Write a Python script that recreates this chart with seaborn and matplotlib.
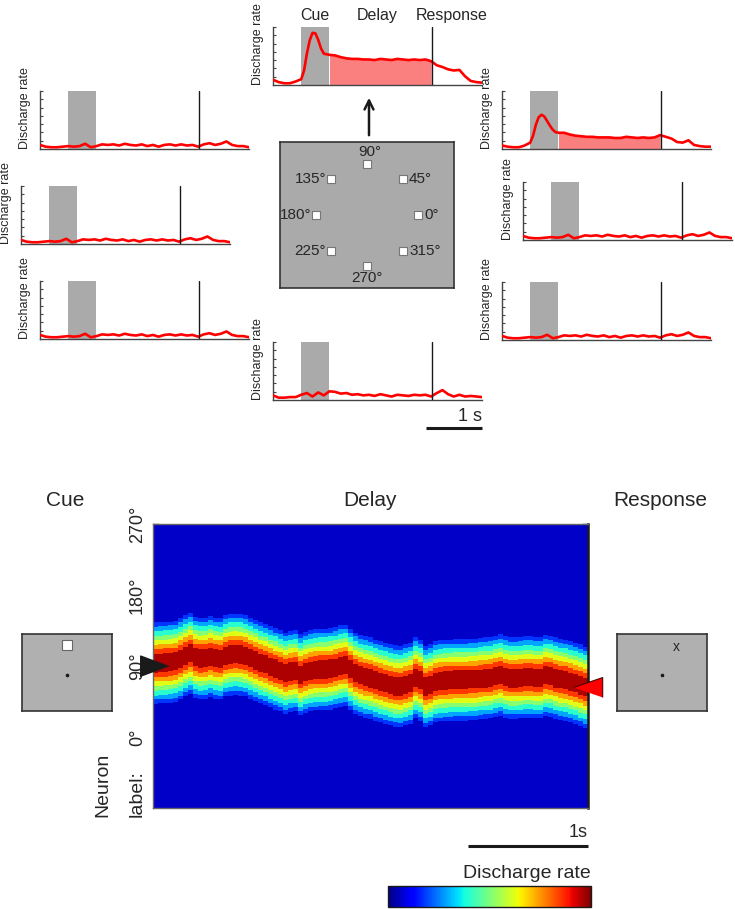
#Delay-period memory figure: tuning PSTHs + population bump heatmap
import numpy as np
import pandas as pd
import seaborn as sns
import matplotlib.pyplot as plt
from matplotlib import transforms

# ----- Figure geometry (pixels) -----
W, H = 735, 909

# ----- Task timing (s) -----
CUE_ON, CUE_OFF, RESP_T = 0.0, 0.5, 2.32
T_MIN, T_MAX = -0.5, 3.2

# ----- PSTH data (rate as fraction of axis height) -----
t_null = np.round(np.arange(-0.5, 3.21, 0.1), 2)
rate_null = [0.07, 0.04, 0.03, 0.03, 0.04, 0.05, 0.04, 0.05, 0.09, 0.03,
             0.05, 0.08, 0.07, 0.08, 0.06, 0.09, 0.07, 0.06, 0.08, 0.05,
             0.07, 0.04, 0.07, 0.08, 0.06, 0.08, 0.06, 0.07, 0.04, 0.08,
             0.10, 0.07, 0.09, 0.13, 0.07, 0.05, 0.05, 0.03]
rate_270 = [0.08, 0.04, 0.04, 0.05, 0.05, 0.09, 0.12, 0.06, 0.13, 0.08,
            0.15, 0.14, 0.11, 0.12, 0.09, 0.10, 0.08, 0.09, 0.07, 0.10,
            0.08, 0.06, 0.09, 0.08, 0.07, 0.09, 0.08, 0.09, 0.06, 0.12,
            0.17, 0.10, 0.06, 0.09, 0.06, 0.07, 0.06, 0.05]

t_tuned = [-0.5, -0.4, -0.3, -0.2, -0.1, 0.0, 0.05, 0.1, 0.15, 0.2, 0.25,
           0.3, 0.35, 0.4, 0.45, 0.5, 0.6, 0.7, 0.8, 0.9, 1.0, 1.1, 1.2,
           1.3, 1.4, 1.5, 1.6, 1.7, 1.8, 1.9, 2.0, 2.1, 2.2, 2.3, 2.4, 2.5,
           2.6, 2.7, 2.8, 2.9, 3.0, 3.1, 3.2]
rate_90 = [0.09, 0.05, 0.03, 0.03, 0.06, 0.10, 0.25, 0.54, 0.77, 0.90, 0.89,
           0.78, 0.63, 0.54, 0.53, 0.52, 0.51, 0.48, 0.46, 0.45, 0.45, 0.44,
           0.44, 0.43, 0.45, 0.44, 0.43, 0.45, 0.44, 0.43, 0.44, 0.43, 0.44,
           0.41, 0.34, 0.31, 0.27, 0.25, 0.26, 0.15, 0.07, 0.05, 0.04]
rate_45 = [0.06, 0.04, 0.03, 0.03, 0.06, 0.11, 0.23, 0.42, 0.55, 0.59, 0.56,
           0.48, 0.40, 0.33, 0.29, 0.28, 0.28, 0.25, 0.23, 0.22, 0.21, 0.21,
           0.20, 0.20, 0.20, 0.19, 0.19, 0.21, 0.20, 0.19, 0.20, 0.19, 0.20,
           0.24, 0.21, 0.18, 0.12, 0.11, 0.15, 0.07, 0.05, 0.04, 0.04]

target_dirs = [0, 45, 90, 135, 180, 225, 270, 315]

# ----- Population bump: centre of activity (deg) per time bin -----
band_deg = [93.5, 94, 94.5, 95, 96, 99, 103, 106, 101, 99.5,
            100, 102, 100, 99, 103, 104.5, 105, 104.5, 103, 100,
            97, 94, 92, 89, 86.5, 84, 81, 83, 84, 79,
            82, 84, 85, 85.5, 85.5, 86.5, 88, 90, 91, 86,
            81, 78, 76, 74.5, 72, 70, 68, 66, 64.5, 64,
            66, 68, 75, 72, 64, 66, 70, 71, 71.5, 72,
            72.5, 72.5, 72.5, 73, 73, 74, 74.5, 75, 77, 78.5,
            76, 74.5, 74.5, 75, 76, 76, 75, 75, 78, 77,
            74.5, 73, 72, 70, 68, 65.5, 63]
HEAT_DT = 1 / 24          # s per time bin
BAND_HALF = 52            # deg, where activity falls to background
N_LEVELS = 9              # contour levels incl. background
CORE_FRAC = 0.772         # activity above this is the top level
CUE_DEG = 90

# ----- Style -----
GRAY = "#aaaaaa"
FILL = "#fa8080"
EDGE = "#333333"

sns.set_theme(style="ticks")
plt.rcParams["font.family"] = ["Liberation Sans", "DejaVu Sans"]
plt.rcParams["axes.linewidth"] = 1.0

fig = plt.figure(figsize=(W / 100, H / 100), dpi=100)


def px_axes(x0, y0, x1, y1):
    return fig.add_axes([x0 / W, 1 - y1 / H, (x1 - x0) / W, (y1 - y0) / H])


def draw_psth(ax, t, rate, fill=False):
    t = np.asarray(t)
    rate = np.asarray(rate)
    ax.axvspan(CUE_ON, CUE_OFF, color=GRAY, lw=0, zorder=0)
    if fill:
        m = (t >= CUE_OFF) & (t <= RESP_T)
        ax.fill_between(t, 0, rate, where=m, color=FILL, lw=0, zorder=1)
    sns.lineplot(x=t, y=rate, ax=ax, color="red", lw=1.9, estimator=None,
                 zorder=3)
    ax.axvline(RESP_T, color="k", lw=1, zorder=4)
    ax.set_xlim(T_MIN, T_MAX)
    ax.set_ylim(0, 1)
    ax.set_yticks(np.linspace(0, 1, 8)[1:])
    ax.set_yticklabels([])
    ax.set_xticks([])
    ax.tick_params(axis="y", direction="in", length=2.5, width=0.8,
                   color="#444444")
    sns.despine(ax=ax)
    for s in ("left", "bottom"):
        ax.spines[s].set_color("#444444")
    ax.set_ylabel("Discharge rate", fontsize=9, loc="bottom", labelpad=3)


# ----- Top: PSTH for each target direction -----
PW, PH = 209, 58
panels = {90: (273, 27), 135: (40, 91), 45: (502, 91), 180: (21, 186),
          0: (523, 182), 225: (40, 281), 315: (502, 282), 270: (273, 342)}
psth_ax = {}
for d, (x0, y0) in panels.items():
    ax = px_axes(x0, y0, x0 + PW, y0 + PH)
    if d == 90:
        draw_psth(ax, t_tuned, rate_90, fill=True)
    elif d == 45:
        draw_psth(ax, t_tuned, rate_45, fill=True)
    elif d == 270:
        draw_psth(ax, t_null, rate_270)
    else:
        draw_psth(ax, t_null, rate_null)
    psth_ax[d] = ax

# epoch labels over the preferred-direction panel
top = psth_ax[90]
tr = transforms.blended_transform_factory(top.transData, top.transAxes)
for lab, tx in [("Cue", 0.25), ("Delay", 1.34), ("Response", 2.67)]:
    top.text(tx, 1.2, lab, transform=tr, ha="center", va="center",
             fontsize=11.5)

# 1 s scale bar under the 270 deg panel
bot = psth_ax[270]
tr = transforms.blended_transform_factory(bot.transData, bot.transAxes)
bot.plot([T_MAX - 1, T_MAX], [-0.48, -0.48], color="k", lw=2.2,
         transform=tr, clip_on=False, solid_capstyle="butt")
bot.text(T_MAX, -0.28, "1 s", transform=tr, ha="right", va="center",
         fontsize=13)

# ----- Centre: target layout -----
bx = px_axes(280, 142, 454, 288)
bx.set_facecolor(GRAY)
bx.set_xlim(-87, 87)
bx.set_ylim(-73, 73)
bx.set_xticks([])
bx.set_yticks([])
for s in bx.spines.values():
    s.set_color(EDGE)
    s.set_linewidth(1.2)
TARGET_R = 51
tx = TARGET_R * np.cos(np.deg2rad(target_dirs))
ty = TARGET_R * np.sin(np.deg2rad(target_dirs))
sns.scatterplot(x=tx, y=ty, ax=bx, marker="s", s=36, color="white",
                edgecolor="#777777", linewidth=0.8, legend=False)
for d, x, y in zip(target_dirs, tx, ty):
    lab = f"{d}°"
    if d == 90:
        bx.text(x + 3, y + 5, lab, ha="center", va="bottom", fontsize=11)
    elif d == 270:
        bx.text(x, y - 5, lab, ha="center", va="top", fontsize=11)
    elif d in (0, 45, 315):
        bx.text(x + 6, y, lab, ha="left", va="center", fontsize=11)
    else:
        bx.text(x - 5, y, lab, ha="right", va="center", fontsize=11)

# ----- Bottom: population activity heatmap -----
ang = np.arange(270, -91, -1)
heat_t = np.arange(len(band_deg)) * HEAT_DT
band = np.asarray(band_deg)
act = np.clip(1 - np.abs(ang[:, None] - band[None, :]) / BAND_HALF, 0, 1)
step = CORE_FRAC / (N_LEVELS - 2)
lvl = np.clip(np.ceil(act / step), 0, N_LEVELS - 1) / (N_LEVELS - 1)
heat = pd.DataFrame(lvl, index=ang, columns=np.round(heat_t, 3))

# level 0 -> jet(0.065), top level -> jet(0.96)
VMIN = -0.065 / 0.895
VMAX = VMIN + 1 / 0.895
hax = px_axes(153, 524, 588, 808)
cax = px_axes(388, 886, 591, 907)
sns.heatmap(heat, ax=hax, cmap="jet", vmin=VMIN, vmax=VMAX, cbar_ax=cax,
            cbar_kws={"orientation": "horizontal"},
            xticklabels=False, yticklabels=False)


def row_of(a):
    return (270 - a) + 0.5


tick_deg = [270, 180, 90, 0]
hax.set_yticks([row_of(a) for a in tick_deg])
hax.set_yticklabels([f"{a}°" for a in tick_deg], rotation=90, va="center",
                    fontsize=13)
# keep the top label inside the axis height
lab270 = hax.get_yticklabels()[0]
lab270.set_transform(lab270.get_transform() + transforms.ScaledTranslation(
    0, -0.08, fig.dpi_scale_trans))
hax.set_xticks([])
hax.tick_params(axis="y", direction="in", length=4, width=1, left=True,
                right=True, pad=5, color="#333333")
for s in hax.spines.values():
    s.set_visible(True)
    s.set_color("#666666")
    s.set_linewidth(1.0)
hax.spines["right"].set_color("k")
hax.spines["right"].set_linewidth(1.8)

# cue / decoded response markers
trh = transforms.blended_transform_factory(hax.transAxes, hax.transData)
hax.plot([0.0345], [row_of(CUE_DEG)], transform=trh,
         marker=[(0, 0), (-1, 0.375), (-1, -0.375)], ms=40, color="k",
         mec="k", clip_on=False, zorder=6, ls="none")
hax.plot([0.9655], [row_of(band_deg[-1])], transform=trh,
         marker=[(0, 0), (1, 0.34), (1, -0.34)], ms=42, color="#ff0000",
         mec="#500000", mew=0.8, clip_on=False, zorder=6, ls="none")

# 1 s scale bar
trx = transforms.blended_transform_factory(hax.transData, hax.transAxes)
ncol = len(band_deg)
hax.plot([ncol - 1 / HEAT_DT, ncol], [-0.134, -0.134], color="k", lw=2.2,
         transform=trx, clip_on=False, solid_capstyle="butt")
hax.text(ncol, -0.085, "1s", transform=trx, ha="right", va="center",
         fontsize=13)

# colorbar styling
cbar = hax.collections[0].colorbar
rng = VMAX - VMIN
cbar.set_ticks([VMIN + 0.34 * rng, VMIN + 0.61 * rng])
cbar.ax.tick_params(direction="in", length=3, width=0.8, top=True,
                    bottom=True, labelbottom=False, labeltop=False)
cbar.outline.set_edgecolor("k")
cbar.outline.set_linewidth(1.0)


# ----- Cue and response screens -----
def screen(x0, y0, x1, y1):
    a = px_axes(x0, y0, x1, y1)
    a.set_facecolor("#b0b0b0")
    a.set_xlim(-45, 45)
    a.set_ylim(-36, 41)
    a.set_xticks([])
    a.set_yticks([])
    for s in a.spines.values():
        s.set_color(EDGE)
        s.set_linewidth(1.2)
    a.plot([0], [0], marker="o", ms=1.6, color="k")
    return a


SCREEN_R = 30
cue_ax = screen(22, 634, 112, 711)
cue_ax.plot([SCREEN_R * np.cos(np.deg2rad(CUE_DEG))],
            [SCREEN_R * np.sin(np.deg2rad(CUE_DEG))], marker="s", ms=6.5,
            mfc="white", mec="#666666", mew=0.8)
resp_ax = screen(617, 634, 707, 711)
resp_ax.text(31 * np.cos(np.deg2rad(band_deg[-1])),
             31 * np.sin(np.deg2rad(band_deg[-1])), "x",
             ha="center", va="center", fontsize=10)

# ----- Overlay: free text and arrow -----
ov = fig.add_axes([0, 0, 1, 1])
ov.set_xlim(0, W)
ov.set_ylim(H, 0)
ov.axis("off")
ov.patch.set_alpha(0)
ov.annotate("", xy=(369, 95), xytext=(369, 138),
            arrowprops=dict(arrowstyle="->", lw=1.8, color="k",
                            mutation_scale=16))
ov.text(65, 500, "Cue", ha="center", va="center", fontsize=15)
ov.text(370, 500, "Delay", ha="center", va="center", fontsize=15)
ov.text(660, 500, "Response", ha="center", va="center", fontsize=15)
ov.text(103, 817, "Neuron", rotation=90, ha="center", va="bottom",
        fontsize=14)
ov.text(137, 817, "label:", rotation=90, ha="center", va="bottom",
        fontsize=14)
ov.text(591, 873, "Discharge rate", ha="right", va="center", fontsize=14)

fig.savefig("out.png", dpi=100)
